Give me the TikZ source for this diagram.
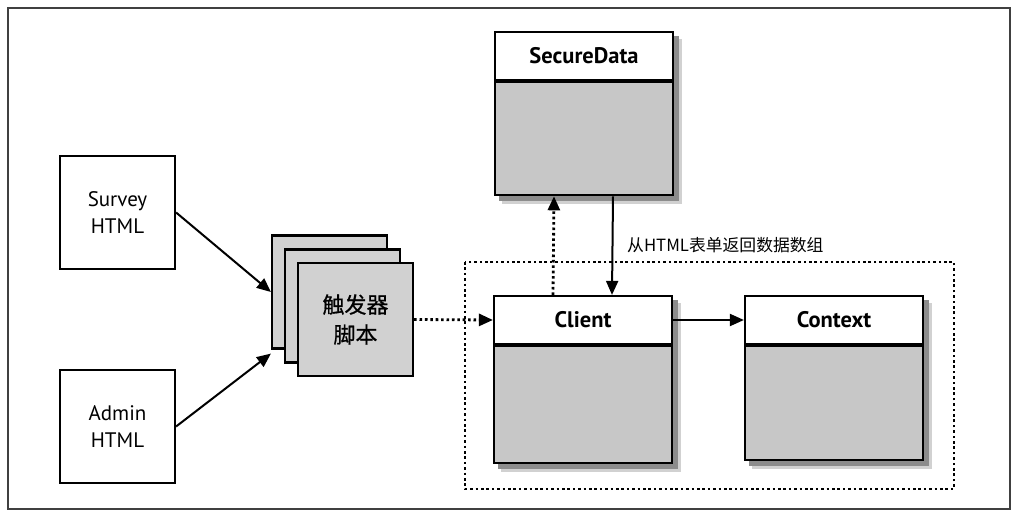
\documentclass[tikz,border=0pt]{standalone}
\usepackage{fontspec}
\setmainfont{PT Sans}
\newfontfamily\cjk{Noto Sans CJK SC}
\usetikzlibrary{arrows.meta}
\pgfdeclarelayer{background}
\pgfsetlayers{background,main}

\begin{document}
\begin{tikzpicture}[x=1pt,y=-1pt,>={Triangle[length=14pt,width=12pt]}]
\tikzstyle{every node}+=[inner sep=0pt]
\tikzstyle{htmlbox}=[draw=black,line width=2.2pt,fill=white,minimum width=115pt,minimum height=113pt,align=center,font=\fontsize{21}{27}\selectfont]
\tikzstyle{stackbox}=[draw=black,line width=2.2pt,fill=black!18,minimum width=115pt,minimum height=113pt]
\tikzstyle{classhead}=[draw=black,line width=2.2pt,fill=white,minimum width=178pt,minimum height=48pt,font=\fontsize{22.5}{24}\selectfont\bfseries]
\tikzstyle{classbody}=[draw=black,line width=2.2pt,fill=black!22,minimum width=178pt,anchor=north]
\tikzstyle{link}=[->,line width=2pt]
\tikzstyle{dotlink}=[->,line width=2.8pt,dash pattern=on 2.6pt off 2.8pt]
\useasboundingbox (0,0) rectangle (1018,516);
\draw [black!75,line width=1.3pt] (8,8) rectangle (1010,509);
\draw [line width=2.8pt,dash pattern=on 2.6pt off 2.8pt] (465,262) rectangle (954,489);
% html pages
\node [htmlbox] (survey) at (117.5,212.5) {Survey\\HTML};
\node [htmlbox] (admin) at (117.5,426.5) {Admin\\HTML};
% trigger scripts
\node [stackbox] (stacka) at (329.5,292) {};
\node [stackbox] (stackb) at (342.5,306) {};
\node [stackbox,align=center,font=\cjk\fontsize{22}{30}\selectfont\addfontfeatures{FakeBold=0.8}] (stackc) at (355.5,319.5) {触发器\\脚本};
% classes
\node [classhead] (securehead) at (584,56) {SecureData};
\node [classbody,minimum height=113pt] (securebody) at (securehead.south) {};
\node [classhead] (clienthead) at (583,320) {Client};
\node [classbody,minimum height=117pt] (clientbody) at (clienthead.south) {};
\node [classhead] (contexthead) at (834,320) {Context};
\node [classbody,minimum height=114pt] (contextbody) at (contexthead.south) {};
\node [anchor=west,font=\cjk\fontsize{16.8}{18}\selectfont] (datalabel) at (627,245) {从HTML表单返回数据数组};
% shadows
\begin{pgfonlayer}{background}
\fill [black!18] ([xshift=8pt,yshift=-8pt]securehead.north west) rectangle ([xshift=8pt,yshift=-8pt]securebody.south east);
\fill [black!45] ([xshift=5pt,yshift=-5pt]securehead.north west) rectangle ([xshift=5pt,yshift=-5pt]securebody.south east);
\fill [black!18] ([xshift=8pt,yshift=-8pt]clienthead.north west) rectangle ([xshift=8pt,yshift=-8pt]clientbody.south east);
\fill [black!45] ([xshift=5pt,yshift=-5pt]clienthead.north west) rectangle ([xshift=5pt,yshift=-5pt]clientbody.south east);
\fill [black!18] ([xshift=8pt,yshift=-8pt]contexthead.north west) rectangle ([xshift=8pt,yshift=-8pt]contextbody.south east);
\fill [black!45] ([xshift=5pt,yshift=-5pt]contexthead.north west) rectangle ([xshift=5pt,yshift=-5pt]contextbody.south east);
\end{pgfonlayer}
% connectors
\draw [link] (survey.east) -- (stacka.west);
\draw [link] (admin.east) -- ([yshift=-4pt]stacka.south west);
\draw [dotlink] (stackc.east) -- (clienthead.west);
\draw [dotlink] ([xshift=-30pt]clienthead.north) -- ([xshift=-30pt]securebody.south);
\draw [link] ([xshift=29pt]securebody.south) -- ([xshift=29pt]clienthead.north);
\draw [link] (clienthead.east) -- (contexthead.west);
\end{tikzpicture}
\end{document}
